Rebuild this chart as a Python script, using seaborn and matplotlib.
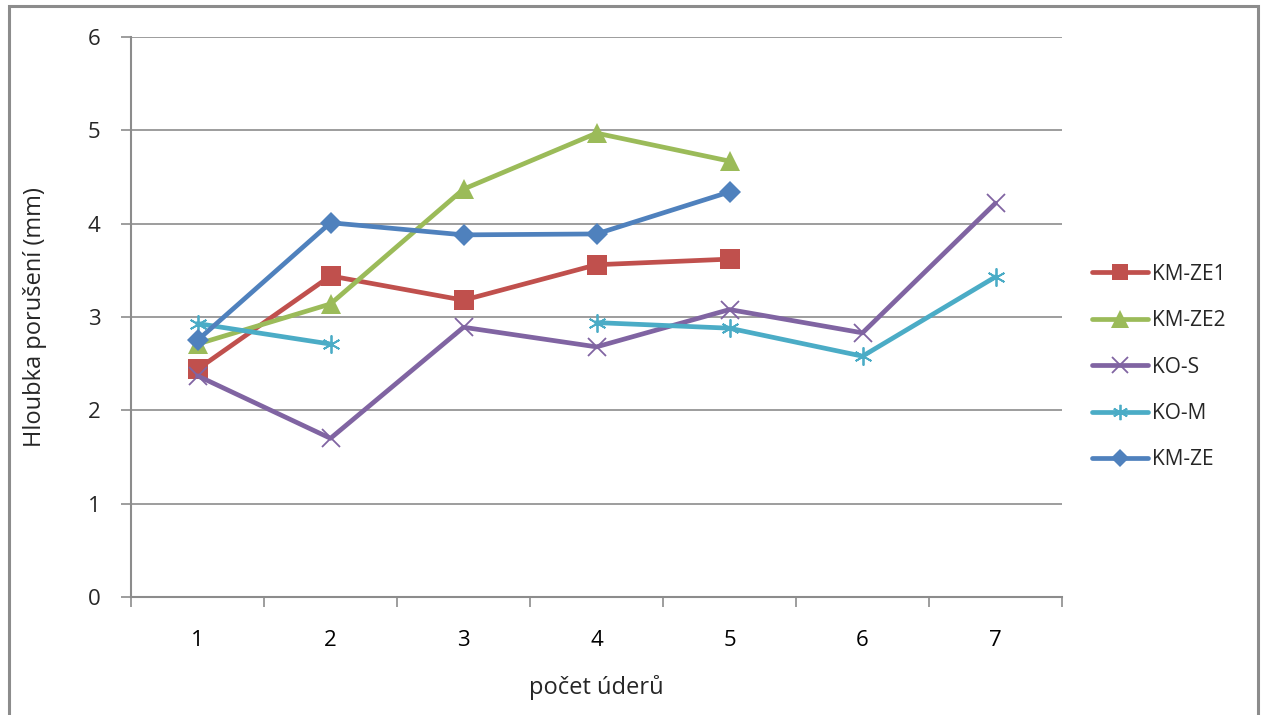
import numpy as np
import pandas as pd
import matplotlib
matplotlib.use("Agg")
import matplotlib.pyplot as plt
from matplotlib.patches import Rectangle
import seaborn as sns

# Number of blows (categories on the x axis)
uderu = [1, 2, 3, 4, 5, 6, 7]

# Damage depth in mm for each specimen series (nan = no measurement)
km_ze1 = [2.44, 3.44, 3.18, 3.56, 3.62, np.nan, np.nan]
km_ze2 = [2.71, 3.14, 4.37, 4.97, 4.67, np.nan, np.nan]
ko_s = [2.37, 1.70, 2.89, 2.68, 3.08, 2.83, 4.22]
ko_m = [2.93, 2.71, np.nan, 2.94, 2.88, 2.58, 3.43]
km_ze = [2.75, 4.01, 3.88, 3.89, 4.34, np.nan, np.nan]

series_names = ["KM-ZE1", "KM-ZE2", "KO-S", "KO-M", "KM-ZE"]
series_values = [km_ze1, km_ze2, ko_s, ko_m, km_ze]

y_ticks = [0, 1, 2, 3, 4, 5, 6]

styles = {
    "KM-ZE1": dict(color="#C0504D", marker="s", ms=14, mew=0),
    "KM-ZE2": dict(color="#9BBB59", marker="^", ms=15, mew=0),
    "KO-S": dict(color="#8064A2", marker="x", ms=13, mew=1.3),
    "KO-M": dict(color="#4BACC6", marker=(6, 2, 0), ms=13, mew=1.3),
    "KM-ZE": dict(color="#4F81BD", marker="D", ms=11, mew=0),
}

sns.set_theme(style="white")
plt.rcParams["font.family"] = ["Open Sans", "DejaVu Sans"]

fig = plt.figure(figsize=(12.64, 7.15), dpi=100)
ax = fig.add_axes([131 / 1264, 1 - 597 / 715, (1062 - 131) / 1264, (597 - 37) / 715])

# Gray frame around the whole chart area
fig.patches.append(Rectangle((9 / 1264, -0.02), (1258 - 9) / 1264, 0.02 + (715 - 6) / 715,
                             transform=fig.transFigure, fill=False,
                             edgecolor="#8c8c8c", linewidth=2.2))

for name, vals in zip(series_names, series_values):
    df = pd.DataFrame({"x": uderu, "y": vals})
    st = styles[name]
    # split into contiguous runs so gaps in the data break the line
    valid = df["y"].notna()
    run_id = df["y"].isna().cumsum()
    first = True
    for _, seg in df[valid].groupby(run_id[valid]):
        sns.lineplot(data=seg, x="x", y="y", ax=ax, color=st["color"],
                     linewidth=3.4, marker=st["marker"], markersize=st["ms"],
                     markeredgewidth=st["mew"], markeredgecolor=st["color"],
                     markerfacecolor=st["color"], label=name if first else None,
                     legend=False)
        first = False

ax.set_xlim(0.5, 7.5)
ax.set_ylim(0, 6)
ax.set_yticks(y_ticks)
ax.set_yticklabels([str(t) for t in y_ticks])
ax.set_xticks(uderu)
ax.set_xticklabels([str(u) for u in uderu])
ax.set_xticks(np.arange(0.5, 7.6, 1.0), minor=True)

ax.grid(axis="y", color="#8c8c8c", linewidth=1.2)
ax.set_axisbelow(True)
for side in ["top", "right"]:
    ax.spines[side].set_visible(False)
for side in ["left", "bottom"]:
    ax.spines[side].set_color("#8c8c8c")
    ax.spines[side].set_linewidth(1.5)

ax.tick_params(axis="x", which="major", length=0, pad=24, labelsize=16, colors="black")
ax.tick_params(axis="x", which="minor", length=7, width=1.2, color="#8c8c8c", direction="out", bottom=True)
ax.tick_params(axis="y", length=7, width=1.2, color="#8c8c8c", direction="out", left=True,
               labelsize=16, pad=15)

ax.set_xlabel("počet úderů", fontsize=17, labelpad=17)
ax.set_ylabel("Hloubka porušení (mm)", fontsize=17, labelpad=29)

handles, labels = ax.get_legend_handles_labels()
leg = fig.legend(handles, labels, loc="upper left", bbox_to_anchor=(1073 / 1264, 1 - 245 / 715),
                 frameon=False, fontsize=15, handlelength=2.7, labelspacing=1.22,
                 handletextpad=0.2, markerscale=0.85)

fig.savefig("out.png", dpi=100)
